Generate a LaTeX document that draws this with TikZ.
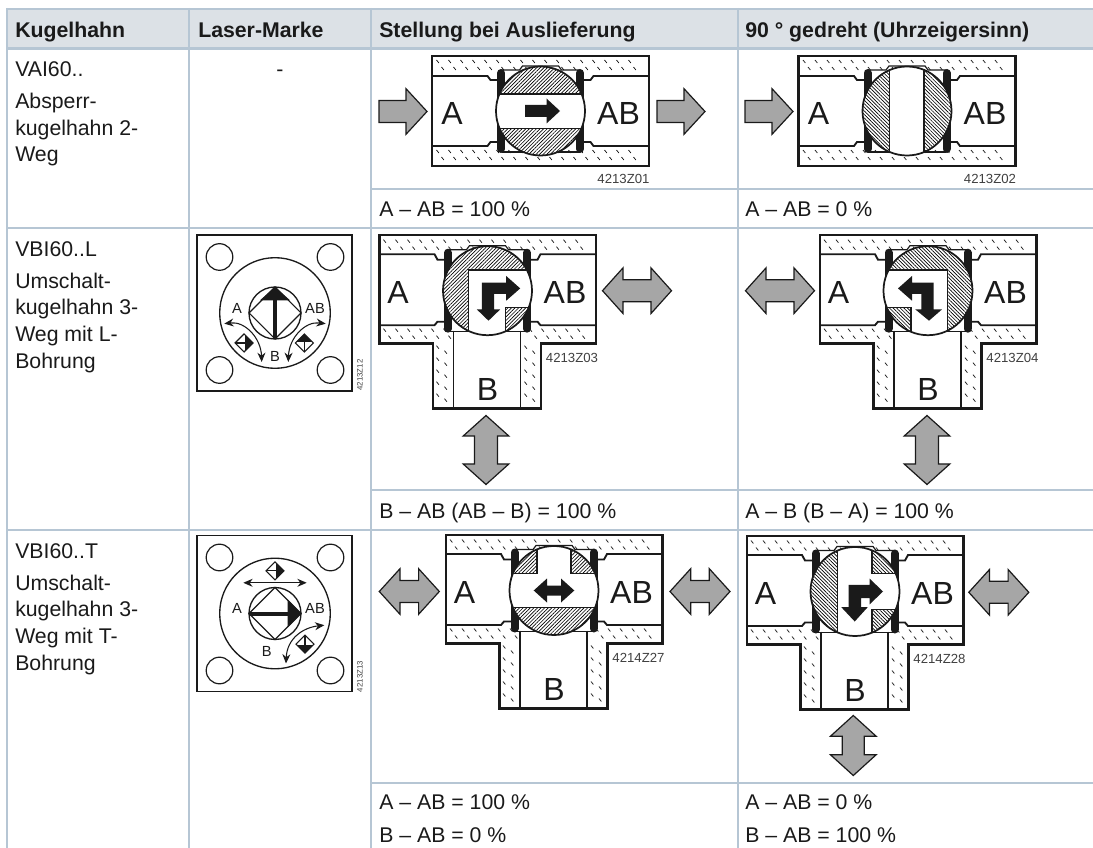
\documentclass[tikz,border=0pt]{standalone}
\usepackage{fontspec}
\setmainfont{Liberation Sans}
\usetikzlibrary{arrows.meta, patterns.meta}

\definecolor{gridblue}{HTML}{B6C6D4}
\definecolor{headfill}{HTML}{DCE1E6}
\definecolor{flowgray}{HTML}{A6A6A6}
\definecolor{inkblack}{HTML}{1A1A1A}

\tikzset{
    gridline/.style={draw=gridblue, line width=1.6pt},
    celltxt/.style={anchor=base west, inner sep=0pt, text=inkblack, font=\fontsize{15.95}{20}\selectfont},
    headtxt/.style={celltxt, font=\fontsize{15.95}{20}\selectfont\bfseries},
    porttxt/.style={inner sep=0pt, text=inkblack, font=\fontsize{24}{26}\selectfont},
    marktxt/.style={inner sep=0pt, text=inkblack, font=\fontsize{11}{13}\selectfont},
    idtxt/.style={inner sep=0pt, text=black!75, font=\fontsize{9.9}{11}\selectfont},
    idside/.style={inner sep=0pt, text=black!75, rotate=90, font=\fontsize{5.9}{7}\selectfont},
    bodyline/.style={draw=inkblack, line width=1.8pt},
    boreline/.style={draw=inkblack, line width=1.4pt},
    thinline/.style={draw=inkblack, line width=0.9pt},
    tickline/.style={draw=inkblack, line width=0.55pt},
    seatbar/.style={draw=inkblack, line width=6pt, line cap=round},
    ballline/.style={draw=inkblack, line width=1.3pt},
    hatchup/.style={draw=inkblack, line width=0.9pt, pattern={Lines[angle=45,distance=1.9pt,line width=0.5pt]}},
    hatchdown/.style={draw=inkblack, line width=0.9pt, pattern={Lines[angle=-45,distance=1.9pt,line width=0.5pt]}},
    flowarrow/.style={fill=flowgray, draw=inkblack, line width=0.9pt, line join=miter},
    ballarrow/.style={fill=inkblack, draw=none},
    markline/.style={draw=inkblack, line width=0.8pt},
    markarrow/.style={draw=inkblack, line width=0.8pt, {Stealth[length=7pt,width=6pt]}-{Stealth[length=7pt,width=6pt]}}
}

% ticks in the cast body
\newcommand{\tickband}[4]{%
    \foreach \tx in {#1,#2,...,#3} {
        \draw[tickline] (\tx,#4) -- ++(2.4,3);
        \draw[tickline] (\tx+5,#4+7) -- ++(2.4,3);
    }
}
\newcommand{\tickstrip}[3]{%
    \foreach \ty in {#2,#3,...,112} {
        \draw[tickline] (#1,\ty) -- ++(2.4,3);
        \draw[tickline] (#1+8,\ty+5) -- ++(2.4,3);
    }
}

% seats and neck, same for both bodies
\newcommand{\valvecore}[2]{%
    \draw[boreline] (-108,#1) -- (-53,#1) -- (-50,-31) -- (-40,-31);
    \draw[boreline] (108,#1) -- (53,#1) -- (50,-31) -- (40,-31);
    \draw[boreline] (-108,#2) -- (-53,#2) -- (-50,31) -- (-40,31);
    \draw[boreline] (108,#2) -- (53,#2) -- (50,31) -- (40,31);
    \draw[thinline] (-39,-41) -- (-21,-41) -- (-18,-45) -- (18,-45) -- (21,-41) -- (39,-41);
    \draw[thinline] (-39,41) -- (-21,41) -- (39,41);
    \draw[seatbar] (-39.5,-38) -- (-39.5,38);
    \draw[seatbar] (39.5,-38) -- (39.5,38);
}

\newcommand{\straightbody}[2]{%
    \draw[bodyline] (-108.5,-55) rectangle (108.5,55);
    \tickband{-104}{-92}{98}{-51}
    \tickband{-104}{-92}{98}{39}
    \valvecore{-35}{35}
    \node[porttxt] (#1a) at (-88.5,2) {A};
    \node[porttxt] (#1ab) at (78,2) {AB};
    \node[idtxt] (#1id) at (83,68) {#2};
}

\newcommand{\teebody}[2]{%
    \draw[bodyline] (-108,-55.5) -- (108.5,-55.5) -- (108.5,53) -- (53.5,53) -- (53.5,118) -- (-54.5,118) -- (-54.5,53) -- (-108,53) -- cycle;
    \tickband{-104}{-92}{98}{-51}
    \tickband{-104}{-92}{-44}{38}
    \tickband{42}{54}{98}{38}
    \tickstrip{-51}{55}{67}
    \tickstrip{37}{55}{67}
    \draw[boreline] (-34,40) -- (-34,118);
    \draw[boreline] (33,40) -- (33,118);
    \valvecore{-36.5}{34.5}
    \node[porttxt] (#1a) at (-89.5,1.5) {A};
    \node[porttxt] (#1ab) at (77.5,1.5) {AB};
    \node[porttxt] (#1b) at (0,99) {B};
    \node[idtxt] (#1id) at (84.5,67.5) {#2};
}

\newcommand{\ballopen}{\fill[white] (0,0) circle (44);}
\newcommand{\ballshut}{\draw[ballline] (0,0) circle (44.5);}

% grey flow arrows: x, y, angle, half length, neck, half shaft
\newcommand{\flowdouble}[6]{%
    \draw[flowarrow, shift={(#1,#2)}, rotate=#3] (-#4,0) -- (-#5,22.8) -- (-#5,#6) -- (#5,#6) -- (#5,22.8) -- (#4,0) -- (#5,-22.8) -- (#5,-#6) -- (-#5,-#6) -- (-#5,-22.8) -- cycle;
}
\newcommand{\flowsingle}[2]{%
    \draw[flowarrow, shift={(#1,#2)}] (-24,-11) -- (3,-11) -- (3,-22.8) -- (24,0) -- (3,22.8) -- (3,11) -- (-24,11) -- cycle;
}

% small sign on the laser mark
\newcommand{\smallsign}[3]{%
    \begin{scope}[shift={(#1,#2)}, rotate=#3]
        \draw[markline] (-9,0) -- (0,9) -- (9,0) -- (0,-9) -- cycle;
        \draw[markline] (-9,0) -- (9,0);
        \fill[inkblack] (9,0) -- (1,8) -- (1,-8) -- cycle;
    \end{scope}
}
\newcommand{\laserbase}[3]{%
    \draw[bodyline, line width=1.2pt] (-78.3,-78) rectangle (77,78);
    \foreach \cx in {-55.5,55.5}
        \foreach \cy in {-56,57}
            \draw[markline, line width=0.9pt] (\cx,\cy) circle (13.3);
    \draw[markline, line width=1pt] (0,0) circle (55.3);
    \draw[markline, line width=1pt] (0,0) circle (26);
    \draw[markline] (-26,0) -- (0,26) -- (26,0) -- (0,-26) -- cycle;
    \node[marktxt] (#1a) at (-38,-5) {A};
    \node[marktxt] (#1ab) at (40,-5) {AB};
    \node[marktxt] (#1b) at (#2,#3) {B};
}

\begin{document}
\begin{tikzpicture}[x=0.75pt, y=-0.75pt]
   \useasboundingbox (0,0) rectangle (1093,848);

   % Table
   \fill[headfill] (7,9) rectangle (1093,48.5);
   \draw[gridline, line width=2.2pt] (6,9) -- (1093,9);
   \draw[gridline] (6,48.5) -- (1093,48.5);
   \draw[gridline] (371,189.3) -- (1093,189.3);
   \draw[gridline] (6,228.3) -- (1093,228.3);
   \draw[gridline] (371,490) -- (1093,490);
   \draw[gridline] (6,530) -- (1093,530);
   \draw[gridline] (371,782.7) -- (1093,782.7);
   \foreach \colx in {7,188.7,370.7,738.3}
       \draw[gridline] (\colx,8) -- (\colx,848);

   % Header
   \node[headtxt] (headvalve) at (15,37.3) {Kugelhahn};
   \node[headtxt] (headmark) at (198,37.3) {Laser-Marke};
   \node[headtxt] (headstart) at (379,37.3) {Stellung bei Auslieferung};
   \node[headtxt] (headturn) at (745,37.3) {90 ° gedreht (Uhrzeigersinn)};

   % First column
   \node[celltxt] (vaia) at (15,76.5) {VAI60..};
   \node[celltxt] (vaib) at (15,108.5) {Absperr-};
   \node[celltxt] (vaic) at (15,135.2) {kugelhahn 2-};
   \node[celltxt] (vaid) at (15,161.9) {Weg};
   \node[celltxt] (vbla) at (15,256.3) {VBI60..L};
   \node[celltxt] (vblb) at (15,288.3) {Umschalt-};
   \node[celltxt] (vblc) at (15,315) {kugelhahn 3-};
   \node[celltxt] (vbld) at (15,341.7) {Weg mit L-};
   \node[celltxt] (vble) at (15,368.3) {Bohrung};
   \node[celltxt] (vbta) at (15,558.3) {VBI60..T};
   \node[celltxt] (vbtb) at (15,590) {Umschalt-};
   \node[celltxt] (vbtc) at (15,616.7) {kugelhahn 3-};
   \node[celltxt] (vbtd) at (15,643) {Weg mit T-};
   \node[celltxt] (vbte) at (15,670) {Bohrung};
   \node[celltxt, anchor=base] (nomark) at (280,76.5) {-};

   % Percent lines
   \node[celltxt] (flowaa) at (379,216.7) {A – AB = 100 \%};
   \node[celltxt] (flowab) at (745,216.7) {A – AB = 0 \%};
   \node[celltxt] (flowba) at (379,518.3) {B – AB (AB – B) = 100 \%};
   \node[celltxt] (flowbb) at (745,518.3) {A – B (B – A) = 100 \%};
   \node[celltxt] (flowca) at (379,809.3) {A – AB = 100 \%};
   \node[celltxt] (flowcb) at (379,842.7) {B – AB = 0 \%};
   \node[celltxt] (flowcc) at (745,809.3) {A – AB = 0 \%};
   \node[celltxt] (flowcd) at (745,842.7) {B – AB = 100 \%};

   % Laser marks
   \begin{scope}[shift={(275,313)}]
       \laserbase{ml}{0}{43}
       \draw[markline, line width=2.4pt] (0,26) -- (0,-14);
       \fill[inkblack] (0,-26) -- (15,-12.7) -- (-15,-12.7) -- cycle;
       \draw[markarrow] (-50.7,10.7) .. controls (-30,8) and (-14,25) .. (-13.3,49);
       \draw[markarrow] (50.7,10.7) .. controls (30,8) and (14,25) .. (13.3,49);
       \smallsign{-31}{30}{0}
       \smallsign{29.3}{30}{90}
       \node[idside] (mlid) at (85,62) {4213Z12};
   \end{scope}
   \begin{scope}[shift={(275,613.5)}]
       \laserbase{mt}{-8.3}{37.7}
       \draw[markline, line width=3pt] (-26,0) -- (14,0);
       \fill[inkblack] (26,0) -- (12.7,14) -- (12.7,-14) -- cycle;
       \draw[markarrow] (-31.7,-30.7) -- (31.7,-30.7);
       \smallsign{0}{-42.7}{0}
       \draw[markarrow] (49.3,11.7) .. controls (28,14) and (12,25) .. (11,50);
       \smallsign{30}{30.7}{270}
       \node[idside] (mtid) at (85,63) {4213Z13};
   \end{scope}

   % Row 1
   \flowsingle{403}{111.5}
   \begin{scope}[shift={(540.5,111)}]
       \straightbody{vo}{4213Z01}
       \ballopen
       \begin{scope}
           \clip (0,0) circle (44);
           \path[hatchup] (-50,-50) rectangle (50,-17);
           \path[hatchup] (-50,17.3) rectangle (50,50);
       \end{scope}
       \fill[ballarrow] (-15.5,-6) -- (6,-6) -- (6,-12.5) -- (19.5,0) -- (6,12.5) -- (6,6) -- (-15.5,6) -- cycle;
       \ballshut
   \end{scope}
   \flowsingle{681}{111.5}

   \flowsingle{769}{111.5}
   \begin{scope}[shift={(907,111)}]
       \straightbody{vc}{4213Z02}
       \ballopen
       \begin{scope}
           \clip (0,0) circle (44);
           \path[hatchdown] (-50,-50) rectangle (-17.7,50);
           \path[hatchdown] (17,-50) rectangle (50,50);
       \end{scope}
       \ballshut
   \end{scope}

   % Row 2
   \begin{scope}[shift={(487.5,290.7)}]
       \teebody{la}{4213Z03}
       \ballopen
       \begin{scope}
           \clip (0,0) circle (44);
           \path[hatchup] (-50,50) -- (-19,50) -- (-19,-20.7) -- (50,-20.7) -- (50,-50) -- (-50,-50) -- cycle;
           \path[hatchup] (17.7,50) -- (17.7,17) -- (50,17) -- (50,50) -- cycle;
       \end{scope}
       \fill[ballarrow] (-5.7,-8) -- (18.7,-8) -- (18.7,-14.7) -- (32.7,-2.3) -- (18.7,10) -- (18.7,3.3) -- (6.7,3.3) -- (6.7,18.7) -- (12.7,18.7) -- (1,30) -- (-10.7,18.7) -- (-5.7,18.7) -- cycle;
       \ballshut
   \end{scope}
   \flowdouble{637}{290.7}{0}{34.5}{14}{11}
   \flowdouble{486}{450}{90}{34.5}{14}{11.5}

   \flowdouble{780}{290.7}{0}{34.5}{14}{11}
   \begin{scope}[shift={(928,290.7)}]
       \teebody{lb}{4213Z04}
       \ballopen
       \begin{scope}
           \clip (0,0) circle (44);
           \path[hatchdown] (50,50) -- (19.5,50) -- (19.5,-20.7) -- (-50,-20.7) -- (-50,-50) -- (50,-50) -- cycle;
           \path[hatchdown] (-17,50) -- (-17,17) -- (-50,17) -- (-50,50) -- cycle;
       \end{scope}
       \fill[ballarrow] (5.7,-8) -- (-16,-8) -- (-16,-14.7) -- (-30,-2.3) -- (-16,10) -- (-16,3.3) -- (-6.7,3.3) -- (-6.7,18.7) -- (-12.7,18.7) -- (1,30) -- (14,18.7) -- (5.7,18.7) -- cycle;
       \ballshut
   \end{scope}
   \flowdouble{927}{450}{90}{34.5}{14}{11.5}

   % Row 3
   \flowdouble{409.3}{591.5}{0}{30}{9.3}{11}
   \begin{scope}[shift={(554,590.5)}]
       \teebody{ta}{4214Z27}
       \ballopen
       \begin{scope}
           \clip (0,0) circle (44);
           \path[hatchup] (-50,17) rectangle (50,50);
           \path[hatchup] (-50,-50) rectangle (-17,-17);
           \path[hatchup] (17,-50) rectangle (50,-17);
       \end{scope}
       \fill[ballarrow] (-20.3,0) -- (-7,-12) -- (-7,-5) -- (7,-5) -- (7,-12) -- (20.3,0) -- (7,12) -- (7,5) -- (-7,5) -- (-7,12) -- cycle;
       \ballshut
   \end{scope}
   \flowdouble{700}{591.5}{0}{30}{9.3}{11}

   \begin{scope}[shift={(855,591.5)}]
       \teebody{tb}{4214Z28}
       \ballopen
       \begin{scope}
           \clip (0,0) circle (44);
           \path[hatchdown] (-50,-50) rectangle (-17.3,50);
           \path[hatchdown] (17,-50) rectangle (50,-17.7);
           \path[hatchdown] (17,17.7) rectangle (50,50);
       \end{scope}
       \fill[ballarrow] (-6.3,-6.7) -- (14.7,-6.7) -- (14.7,-12.8) -- (28,0) -- (14.7,12.8) -- (14.7,6.7) -- (6,6.7) -- (6,15.7) -- (12.7,15.7) -- (-0.3,30) -- (-13.7,15.7) -- (-6.3,15.7) -- cycle;
       \ballshut
   \end{scope}
   \flowdouble{998.8}{592.3}{0}{30}{9.3}{11}
   \flowdouble{853.3}{745.5}{90}{30}{9.3}{11}

\end{tikzpicture}
\end{document}
